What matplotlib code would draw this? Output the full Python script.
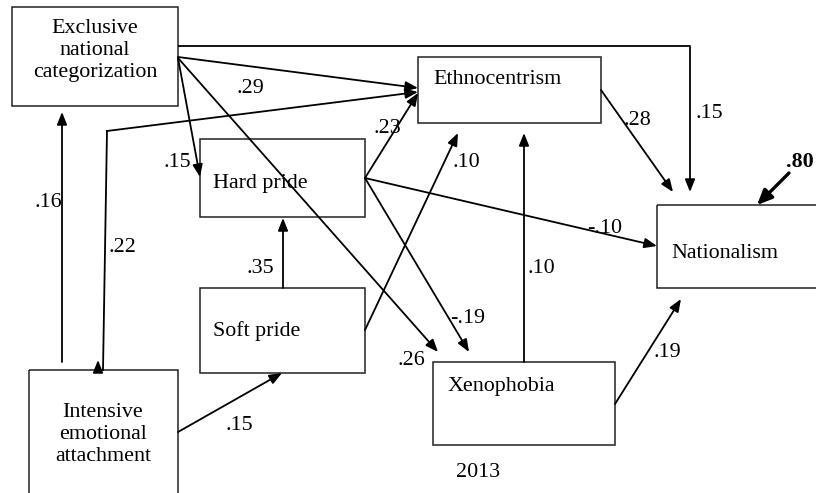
import matplotlib.pyplot as plt
from matplotlib.patches import Rectangle, FancyArrowPatch

plt.rcParams['font.family'] = ['Liberation Serif', 'DejaVu Serif']

# nodes of the path model
node_names = ['enc', 'hard', 'soft', 'int', 'ethno', 'xeno', 'nat']
node_labels = [['Exclusive', 'national', 'categorization'],
               ['Hard pride'], ['Soft pride'],
               ['Intensive', 'emotional', 'attachment'],
               ['Ethnocentrism'], ['Xenophobia'], ['Nationalism']]

# path coefficients
coef_labels = ['.29', '.22', '.16', '.15', '.26', '.15', '.23', '.10',
               '-.10', '-.19', '.35', '.15', '.28', '.10', '.19']
error_label = '.80'
year_label = '2013'

# layout (pixels, y down)
boxes = {
    'enc': (12, 7, 178, 106),
    'hard': (200, 139, 365, 217),
    'soft': (200, 288, 365, 373),
    'int': (29, 370, 178, 520),
    'ethno': (418, 57, 601, 123),
    'xeno': (433, 362, 615, 445),
    'nat': (657, 205, 830, 288),
}
text_pos = {
    'enc': ('center', 95, [33, 55, 77]),
    'hard': ('left', 213, [188]),
    'soft': ('left', 213, [336]),
    'int': ('center', 103, [417, 439, 461]),
    'ethno': ('left', 433, [84]),
    'xeno': ('left', 448, [391]),
    'nat': ('left', 671, [258]),
}
# arrows: list of points, arrow at end
paths = [
    [(178, 57), (418, 88)],
    [(107, 131), (418, 92)],
    [(62, 362), (62, 112)],
    [(178, 58), (200, 177)],
    [(178, 58), (438, 352)],
    [(178, 46), (690, 46), (690, 192)],
    [(365, 178), (418, 93)],
    [(365, 330), (458, 133)],
    [(365, 178), (657, 246)],
    [(365, 178), (469, 352)],
    [(283, 288), (283, 218)],
    [(178, 432), (282, 373)],
    [(601, 90), (673, 192)],
    [(524, 362), (524, 133)],
    [(615, 404), (681, 299)],
]
coef_pos = [(250, 93), (122, 252), (48, 207), (177, 167), (411, 365),
            (709, 118), (387, 133), (466, 167), (605, 233), (468, 323),
            (260, 273), (239, 430), (637, 125), (541, 273), (667, 357)]

W, H = 816, 493
fig = plt.figure(figsize=(W / 100, H / 100), dpi=100)
ax = fig.add_axes([0, 0, 1, 1])
ax.set_xlim(0, W)
ax.set_ylim(H, 0)
ax.axis('off')

fs = 15.8
for name, lines in zip(node_names, node_labels):
    x0, y0, x1, y1 = boxes[name]
    ax.add_patch(Rectangle((x0, y0), x1 - x0, y1 - y0, fill=False,
                           lw=1.1, ec='#222222'))
    ha, tx, ys = text_pos[name]
    for s, ty in zip(lines, ys):
        ax.text(tx, ty, s, ha=ha, va='baseline', fontsize=fs)


def arrow(p0, p1, lw=1.3, hl=7.5, hw=3.0):
    ax.add_patch(FancyArrowPatch(p0, p1, arrowstyle=f'-|>,head_length={hl},head_width={hw}',
                                 mutation_scale=1, lw=lw, color='black',
                                 shrinkA=0, shrinkB=0))


for pts in paths:
    for a, b in zip(pts[:-2], pts[1:-1]):
        ax.plot([a[0], b[0]], [a[1], b[1]], color='black', lw=1.3,
                solid_capstyle='butt')
    arrow(pts[-2], pts[-1])

# .22 path runs down to the attachment box
ax.plot([107, 103], [131, 370], color='black', lw=1.3)
arrow((98, 371), (98, 360))

# residual arrow
arrow((789, 173), (757, 205), lw=2.4, hl=9, hw=4)

for s, (x, y) in zip(coef_labels, coef_pos):
    ax.text(x, y, s, ha='center', va='baseline', fontsize=fs)
ax.text(800, 167, error_label, ha='center', va='baseline', fontsize=fs,
        fontweight='bold')
ax.text(478, 477, year_label, ha='center', va='baseline', fontsize=fs)

fig.savefig('out.png', dpi=100)
